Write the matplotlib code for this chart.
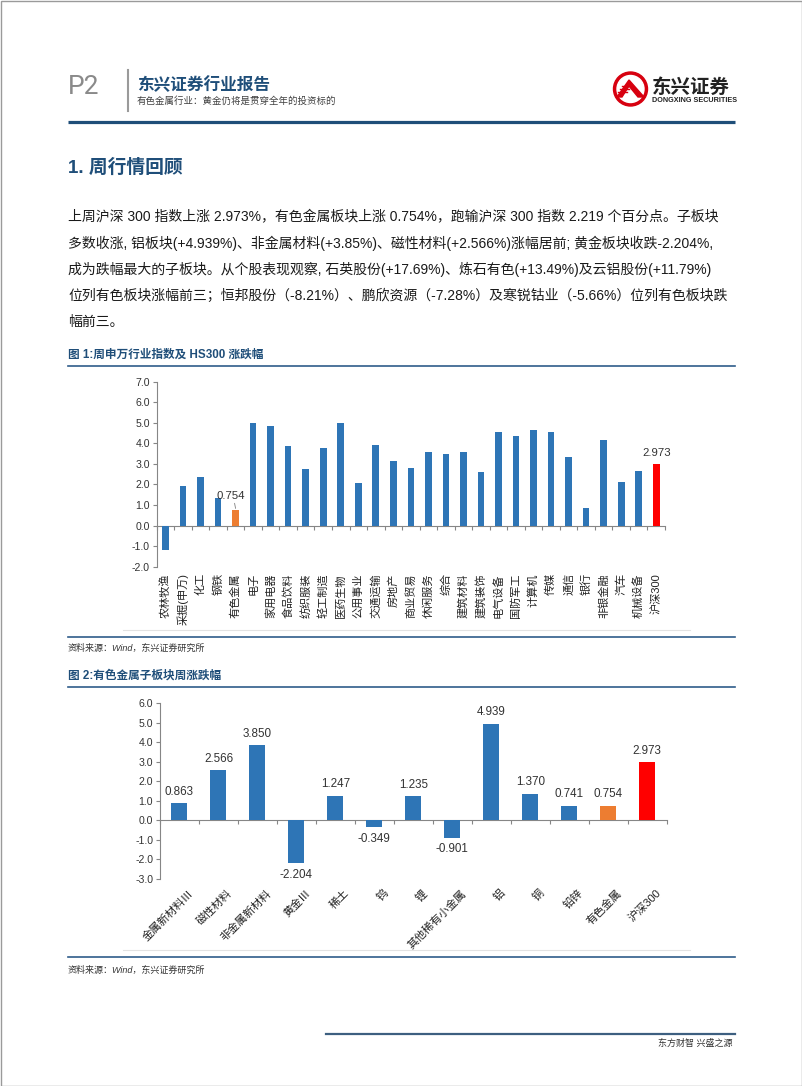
import matplotlib
matplotlib.use("Agg")
import matplotlib.pyplot as plt
import numpy as np
from matplotlib.patches import Circle, Rectangle, Polygon
from matplotlib.ticker import FormatStrFormatter

plt.rcParams["font.family"] = ["Liberation Sans", "Noto Sans CJK SC", "DejaVu Sans"]

# 图 1 data: 申万行业周涨跌幅 (%)
ind_names = ["农林牧渔", "采掘(申万)", "化工", "钢铁", "有色金属", "电子", "家用电器",
             "食品饮料", "纺织服装", "轻工制造", "医药生物", "公用事业", "交通运输",
             "房地产", "商业贸易", "休闲服务", "综合", "建筑材料", "建筑装饰", "电气设备",
             "国防军工", "计算机", "传媒", "通信", "银行", "非银金融", "汽车", "机械设备",
             "沪深300"]
ind_values = [-1.19, 1.95, 2.38, 1.32, 0.754, 5.00, 4.84, 3.89, 2.75, 3.76, 5.00, 2.07,
              3.92, 3.13, 2.78, 3.60, 3.49, 3.57, 2.59, 4.54, 4.38, 4.66, 4.54, 3.32,
              0.88, 4.15, 2.10, 2.64, 2.973]

# 图 2 data: 有色金属子板块周涨跌幅 (%)
sub_names = ["金属新材料Ⅲ", "磁性材料", "非金属新材料", "黄金Ⅲ", "稀土", "钨", "锂",
             "其他稀有小金属", "铝", "铜", "铅锌", "有色金属", "沪深300"]
sub_values = [0.863, 2.566, 3.850, -2.204, 1.247, -0.349, 1.235, -0.901, 4.939, 1.370,
              0.741, 0.754, 2.973]

paragraph = [
    "上周沪深 300 指数上涨 2.973%，有色金属板块上涨 0.754%，跑输沪深 300 指数 2.219 个百分点。子板块",
    "多数收涨, 铝板块(+4.939%)、非金属材料(+3.85%)、磁性材料(+2.566%)涨幅居前; 黄金板块收跌-2.204%,",
    "成为跌幅最大的子板块。从个股表现观察, 石英股份(+17.69%)、炼石有色(+13.49%)及云铝股份(+11.79%)",
    "位列有色板块涨幅前三；恒邦股份（-8.21%）、鹏欣资源（-7.28%）及寒锐钴业（-5.66%）位列有色板块跌",
    "幅前三。",
]

BLUE = "#2E75B6"
ORANGE = "#ED7D31"
RED = "#FF0000"
NAVY = "#1F4E79"
AXC = "#868686"

W, H = 802, 1086
fig = plt.figure(figsize=(W / 100, H / 100), dpi=100)

# page layer in pixel coordinates
bg = fig.add_axes([0, 0, 1, 1], zorder=0)
bg.set_xlim(0, W)
bg.set_ylim(H, 0)
bg.axis("off")

bg.add_patch(Rectangle((0.5, 0.5), W - 1, H - 1, fill=False, ec="#9a9a9a", lw=1))

# header
bg.text(68, 87, "P2", fontsize=19, color="#8a8a8a", va="center", ha="left", family=["Roboto"])
bg.plot([128, 128], [70, 111], color="#9a9a9a", lw=1.5)
bg.text(137, 85, "东兴证券行业报告", fontsize=12, fontweight="bold", color=NAVY, va="center")
bg.text(137, 101, "有色金属行业：黄金仍将是贯穿全年的投资标的", fontsize=6.8, color="#404040", va="center")

# logo
bg.add_patch(Circle((630.5, 89), 17, color="#D7000F"))
bg.add_patch(Circle((630.5, 89), 13.5, color="white"))
bg.add_patch(Polygon([[617, 97], [629, 80], [644, 97], [638, 97], [629, 86], [622, 97]], color="#D7000F"))
for k in range(3):
    bg.plot([618 + k * 2, 627 + k * 1.5], [92 - k * 3, 92 - k * 3], color="#D7000F", lw=1)
bg.text(652, 88, "东兴证券", fontsize=14, fontweight="bold", color="#222222", va="center")
bg.text(652, 101, "DONGXING SECURITIES", fontsize=5.2, fontweight="bold", color="#222222", va="center")
bg.plot([68, 735], [121.5, 121.5], color=NAVY, lw=2.3, solid_capstyle="butt")

# section heading and paragraph
bg.text(68, 168, "1. 周行情回顾", fontsize=13.5, fontweight="bold", color=NAVY, va="center")
for k, line in enumerate(paragraph):
    bg.text(68, 217 + 26.2 * k, line, fontsize=10, color="#1a1a1a", va="center")

# figure 1 frame
bg.text(68, 355, "图 1:周申万行业指数及 HS300 涨跌幅", fontsize=8.4, fontweight="bold", color=NAVY, va="center")
bg.plot([68, 735], [366, 366], color="#2F5C8A", lw=1.2)
bg.plot([123, 690], [630, 630], color="#e2e2e2", lw=0.8)
bg.plot([68, 735], [637, 637], color="#2F5C8A", lw=1.2)
bg.text(68, 648, "资料来源：Wind，东兴证券研究所", fontsize=6.5, style="italic", color="#333333", va="center")

# figure 2 frame
bg.text(68, 676, "图 2:有色金属子板块周涨跌幅", fontsize=8.4, fontweight="bold", color=NAVY, va="center")
bg.plot([68, 735], [687, 687], color="#2F5C8A", lw=1.2)
bg.plot([123, 690], [950, 950], color="#e2e2e2", lw=0.8)
bg.plot([68, 735], [957, 957], color="#2F5C8A", lw=1.2)
bg.text(68, 970, "资料来源：Wind，东兴证券研究所", fontsize=6.5, style="italic", color="#333333", va="center")

# footer
bg.plot([326, 735], [1034, 1034], color="#3D5F80", lw=1.6)
bg.text(732, 1043, "东方财智 兴盛之源", fontsize=6.5, color="#333333", va="center", ha="right")


def style_axes(ax, n, ylo, yhi):
    ax.set_xlim(-0.5, n - 0.5)
    ax.set_ylim(ylo, yhi)
    ax.set_yticks(np.arange(ylo, yhi + 0.1, 1))
    ax.yaxis.set_major_formatter(FormatStrFormatter("%.1f"))
    for s in ["top", "right"]:
        ax.spines[s].set_visible(False)
    ax.spines["bottom"].set_position(("data", 0))
    for s in ["left", "bottom"]:
        ax.spines[s].set_color(AXC)
        ax.spines[s].set_linewidth(0.8)
    ax.set_xticks(np.arange(-0.5, n, 1))
    ax.tick_params(axis="x", labelbottom=False, length=3, color=AXC, direction="out")
    ax.tick_params(axis="y", length=3, color=AXC, labelsize=7.6, labelcolor="#333333", pad=2)
    ax.patch.set_alpha(0)


# chart 1
n1 = len(ind_names)
ax1 = fig.add_axes([156.7 / W, 1 - 566.7 / H, (665 - 156.7) / W, 185 / H], zorder=2)
c1 = [BLUE] * n1
c1[ind_names.index("有色金属")] = ORANGE
c1[-1] = RED
x1 = np.arange(n1)
ax1.bar(x1, ind_values, width=0.38, color=c1, zorder=3)
style_axes(ax1, n1, -2, 7)
for i, name in enumerate(ind_names):
    ax1.text(i, -0.035, name, transform=ax1.get_xaxis_transform(), rotation=90,
             ha="center", va="top", fontsize=8, color="#222222")
j = ind_names.index("有色金属")
ax1.annotate(f"{ind_values[j]:.3f}", xy=(j, ind_values[j] + 0.08), xytext=(j - 0.25, 1.22),
             ha="center", va="bottom", fontsize=8.2, color="#333333",
             arrowprops=dict(arrowstyle="-", color="#7f7f7f", lw=0.6, shrinkA=0, shrinkB=0,
                             relpos=(0.6, 0)))
ax1.annotate(f"{ind_values[-1]:.3f}", xy=(n1 - 1, ind_values[-1]), xytext=(0, 5),
             textcoords="offset points", ha="center", va="bottom", fontsize=8.2, color="#333333")

# chart 2
n2 = len(sub_names)
ax2 = fig.add_axes([160 / W, 1 - 878.7 / H, (666.7 - 160) / W, 175.4 / H], zorder=2)
c2 = [BLUE] * n2
c2[-2] = ORANGE
c2[-1] = RED
x2 = np.arange(n2)
ax2.bar(x2, sub_values, width=0.41, color=c2, zorder=3)
style_axes(ax2, n2, -3, 6)
for i, (name, v) in enumerate(zip(sub_names, sub_values)):
    ax2.annotate(name, xy=(i, 0), xycoords=ax2.get_xaxis_transform(), xytext=(6, -6.5),
                 textcoords="offset points", rotation=45, ha="right", va="top",
                 rotation_mode="anchor", fontsize=8, color="#222222")
    if v >= 0:
        ax2.annotate(f"{v:.3f}", xy=(i, v), xytext=(0, 4), textcoords="offset points",
                     ha="center", va="bottom", fontsize=8.4, color="#333333")
    else:
        ax2.annotate(f"{v:.3f}", xy=(i, v), xytext=(0, -4), textcoords="offset points",
                     ha="center", va="top", fontsize=8.4, color="#333333")

fig.savefig("out.png", dpi=100)
